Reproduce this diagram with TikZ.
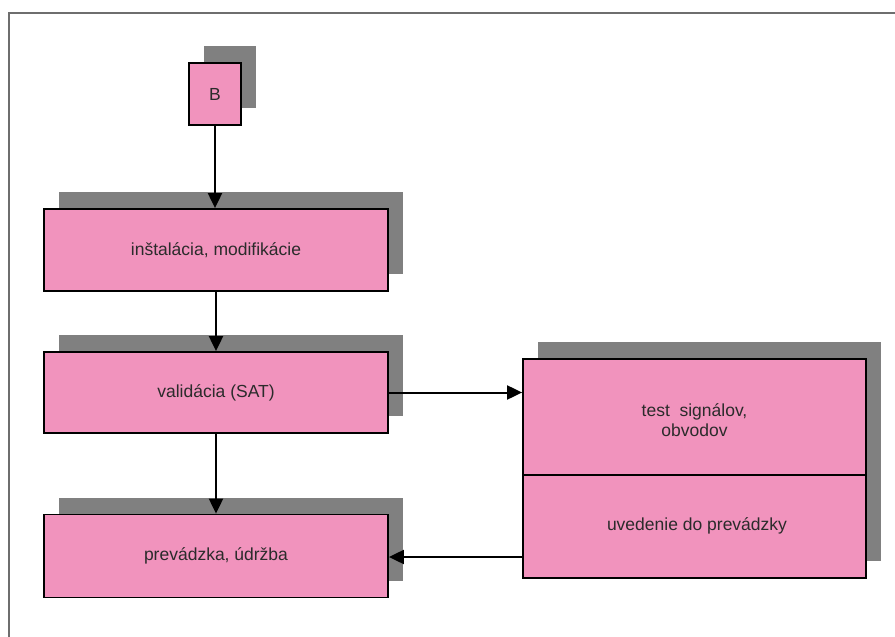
\documentclass[tikz,border=0pt]{standalone}
\usepackage{fontspec}
\setmainfont{Liberation Sans}
\usetikzlibrary{arrows.meta,shadows}
\definecolor{boxpink}{HTML}{F193BD}
\definecolor{shadowgray}{HTML}{808080}
\definecolor{textgray}{HTML}{2B2B2B}
\definecolor{framegray}{HTML}{6E6E6E}
\tikzset{
  stepbox/.style={draw=black, line width=1.8pt, fill=boxpink, rectangle,
    inner sep=0pt, text=textgray, font=\fontsize{17.5}{20}\selectfont,
    align=center,
    general shadow={fill=shadowgray, draw=none, shadow xshift=15pt, shadow yshift=17pt}},
  label/.style={text=textgray, font=\fontsize{17.5}{20.5}\selectfont, align=center, inner sep=0pt},
  flow/.style={line width=2pt, -{Triangle[length=15pt,width=14pt]}},
}
\begin{document}
\begin{tikzpicture}[x=1pt,y=-1pt]
\useasboundingbox (0,0) rectangle (895,637);
% outer frame, top and left edges only
\draw[framegray, line width=1.6pt] (9,637) -- (9,13) -- (895,13);

% left column of steps
\node[stepbox, minimum width=52pt, minimum height=62pt] (B) at (215,94) {B};
\node[stepbox, minimum width=344pt, minimum height=82pt] (b1) at (216,250) {inštalácia, modifikácie};
\node[stepbox, minimum width=344pt, minimum height=81pt] (b2) at (216,392.5) {validácia (SAT)};
\node[stepbox, minimum width=344pt, minimum height=83pt] (b3) at (216,556) {prevádzka, údržba};

% right two-part box
\node[stepbox, minimum width=343pt, minimum height=219pt] (R) at (694.5,468.5) {};
\coordinate (div) at (523,475);
\draw[line width=1.8pt] (R.west |- div) -- (R.east |- div);
\node[label] (t1) at (694.5,420) {test\ \ signálov,\\obvodov};
\node[label] (t2) at (697,526) {uvedenie do prevádzky};

% connectors
\draw[flow] (B.south) -- (B.south |- b1.north);
\draw[flow] (b1.south) -- (b2.north);
\draw[flow] (b2.south) -- (b3.north);
\draw[flow] (b2.east) -- (b2.east -| R.west);
\draw[flow] ([yshift=-1pt]b3.east -| R.west) -- ([yshift=-1pt]b3.east);
\end{tikzpicture}
\end{document}
